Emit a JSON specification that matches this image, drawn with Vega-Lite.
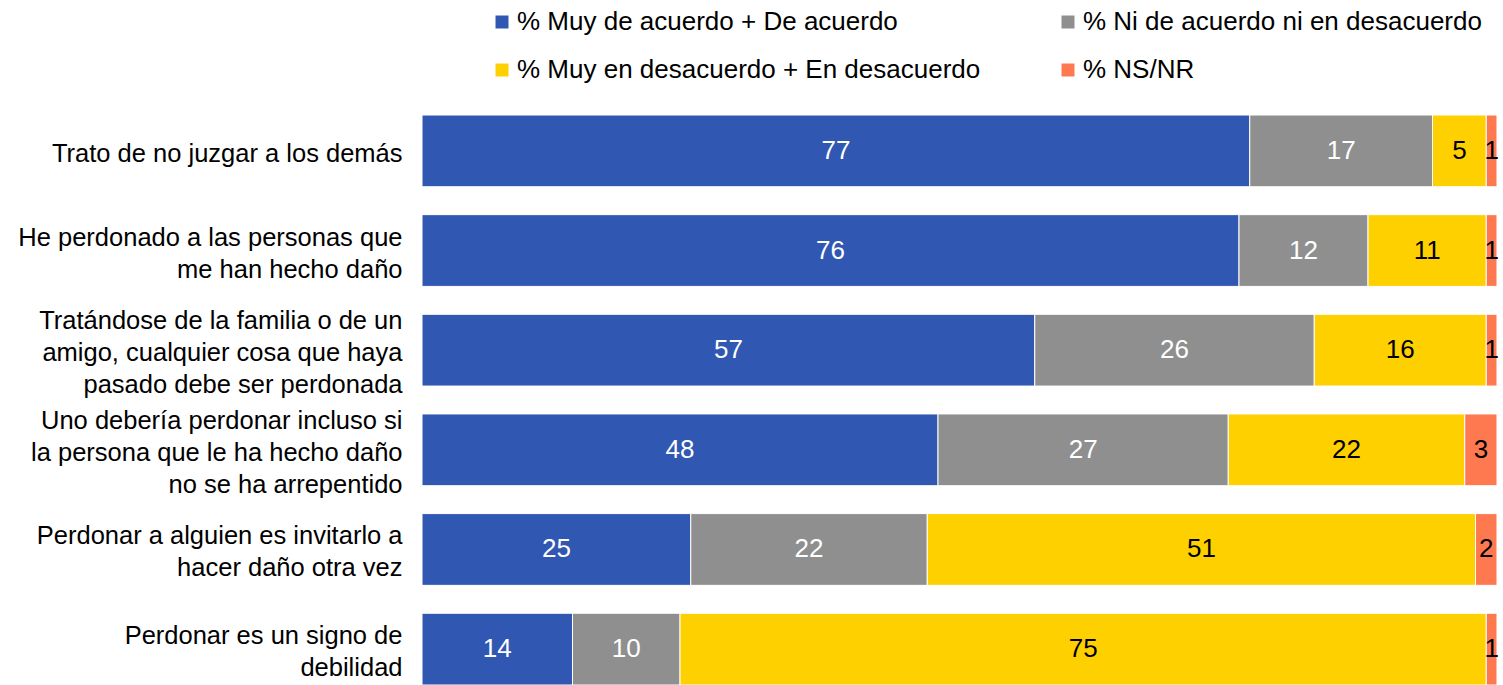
{
  "$schema": "https://vega.github.io/schema/vega-lite/v6.json",
  "autosize": {"type": "none"},
  "padding": {"left": 422, "top": 115, "right": 6, "bottom": 0},
  "width": 1075,
  "height": 570,
  "background": "white",
  "config": {"view": {"stroke": null}, "font": "Liberation Sans"},
  "data": {"values": [
    {"item": "Trato de no juzgar a los demás", "idx": 1, "cat": "% Muy de acuerdo + De acuerdo", "ord": 1, "value": 77},
    {"item": "Trato de no juzgar a los demás", "idx": 1, "cat": "% Ni de acuerdo ni en desacuerdo", "ord": 2, "value": 17},
    {"item": "Trato de no juzgar a los demás", "idx": 1, "cat": "% Muy en desacuerdo + En desacuerdo", "ord": 3, "value": 5},
    {"item": "Trato de no juzgar a los demás", "idx": 1, "cat": "% NS/NR", "ord": 4, "value": 1},
    {"item": "He perdonado a las personas que|me han hecho daño", "idx": 2, "cat": "% Muy de acuerdo + De acuerdo", "ord": 1, "value": 76},
    {"item": "He perdonado a las personas que|me han hecho daño", "idx": 2, "cat": "% Ni de acuerdo ni en desacuerdo", "ord": 2, "value": 12},
    {"item": "He perdonado a las personas que|me han hecho daño", "idx": 2, "cat": "% Muy en desacuerdo + En desacuerdo", "ord": 3, "value": 11},
    {"item": "He perdonado a las personas que|me han hecho daño", "idx": 2, "cat": "% NS/NR", "ord": 4, "value": 1},
    {"item": "Tratándose de la familia o de un|amigo, cualquier cosa que haya|pasado debe ser perdonada", "idx": 3, "cat": "% Muy de acuerdo + De acuerdo", "ord": 1, "value": 57},
    {"item": "Tratándose de la familia o de un|amigo, cualquier cosa que haya|pasado debe ser perdonada", "idx": 3, "cat": "% Ni de acuerdo ni en desacuerdo", "ord": 2, "value": 26},
    {"item": "Tratándose de la familia o de un|amigo, cualquier cosa que haya|pasado debe ser perdonada", "idx": 3, "cat": "% Muy en desacuerdo + En desacuerdo", "ord": 3, "value": 16},
    {"item": "Tratándose de la familia o de un|amigo, cualquier cosa que haya|pasado debe ser perdonada", "idx": 3, "cat": "% NS/NR", "ord": 4, "value": 1},
    {"item": "Uno debería perdonar incluso si|la persona que le ha hecho daño|no se ha arrepentido", "idx": 4, "cat": "% Muy de acuerdo + De acuerdo", "ord": 1, "value": 48},
    {"item": "Uno debería perdonar incluso si|la persona que le ha hecho daño|no se ha arrepentido", "idx": 4, "cat": "% Ni de acuerdo ni en desacuerdo", "ord": 2, "value": 27},
    {"item": "Uno debería perdonar incluso si|la persona que le ha hecho daño|no se ha arrepentido", "idx": 4, "cat": "% Muy en desacuerdo + En desacuerdo", "ord": 3, "value": 22},
    {"item": "Uno debería perdonar incluso si|la persona que le ha hecho daño|no se ha arrepentido", "idx": 4, "cat": "% NS/NR", "ord": 4, "value": 3},
    {"item": "Perdonar a alguien es invitarlo a|hacer daño otra vez", "idx": 5, "cat": "% Muy de acuerdo + De acuerdo", "ord": 1, "value": 25},
    {"item": "Perdonar a alguien es invitarlo a|hacer daño otra vez", "idx": 5, "cat": "% Ni de acuerdo ni en desacuerdo", "ord": 2, "value": 22},
    {"item": "Perdonar a alguien es invitarlo a|hacer daño otra vez", "idx": 5, "cat": "% Muy en desacuerdo + En desacuerdo", "ord": 3, "value": 51},
    {"item": "Perdonar a alguien es invitarlo a|hacer daño otra vez", "idx": 5, "cat": "% NS/NR", "ord": 4, "value": 2},
    {"item": "Perdonar es un signo de|debilidad", "idx": 6, "cat": "% Muy de acuerdo + De acuerdo", "ord": 1, "value": 14},
    {"item": "Perdonar es un signo de|debilidad", "idx": 6, "cat": "% Ni de acuerdo ni en desacuerdo", "ord": 2, "value": 10},
    {"item": "Perdonar es un signo de|debilidad", "idx": 6, "cat": "% Muy en desacuerdo + En desacuerdo", "ord": 3, "value": 75},
    {"item": "Perdonar es un signo de|debilidad", "idx": 6, "cat": "% NS/NR", "ord": 4, "value": 1}
  ]},
  "transform": [
    {"stack": "value", "groupby": ["item"], "sort": [{"field": "ord"}], "as": ["x0", "x1"]},
    {"calculate": "(datum.x0 + datum.x1) / 2", "as": "xm"}
  ],
  "encoding": {
    "y": {
      "field": "item", "type": "nominal", "sort": {"field": "idx"},
      "scale": {"paddingInner": 0.28, "paddingOuter": 0},
      "axis": {
        "title": null, "ticks": false, "domain": false,
        "labelExpr": "split(datum.label, '|')",
        "labelFontSize": 25.5, "labelLineHeight": 32, "labelColor": "#000000",
        "labelPadding": 20, "labelLimit": 420, "labelFont": "Liberation Sans",
        "labelOffset": {
          "condition": [
            {"test": "length(split(datum.value, '|')) == 3", "value": -29},
            {"test": "length(split(datum.value, '|')) == 2", "value": -13}
          ],
          "value": 3
        }
      }
    }
  },
  "layer": [
    {
      "mark": {"type": "bar", "stroke": "white", "strokeWidth": 1},
      "encoding": {
        "x": {"field": "x0", "type": "quantitative", "scale": {"domain": [0, 100], "nice": false}, "axis": null},
        "x2": {"field": "x1"},
        "color": {
          "field": "cat", "type": "nominal",
          "scale": {
            "domain": ["% Muy de acuerdo + De acuerdo", "% Ni de acuerdo ni en desacuerdo", "% Muy en desacuerdo + En desacuerdo", "% NS/NR"],
            "range": ["#3057B2", "#8F8F8F", "#FFD000", "#FF7950"]
          },
          "legend": {
            "title": null, "orient": "none", "legendX": 67, "legendY": -106,
            "direction": "horizontal", "columns": 2,
            "symbolType": "square", "symbolSize": 169, "symbolStrokeWidth": 0,
            "labelFontSize": 26, "labelFont": "Liberation Sans", "labelColor": "#000000",
            "labelOffset": 2, "labelLimit": 700, "columnPadding": 74, "rowPadding": 22
          }
        }
      }
    },
    {
      "mark": {"type": "text", "fontSize": 26, "font": "Liberation Sans", "align": "center", "baseline": "middle"},
      "encoding": {
        "x": {"field": "xm", "type": "quantitative"},
        "text": {"field": "value", "type": "quantitative"},
        "color": {
          "condition": {"test": "datum.ord <= 2", "value": "white"},
          "value": "black"
        }
      }
    }
  ]
}
